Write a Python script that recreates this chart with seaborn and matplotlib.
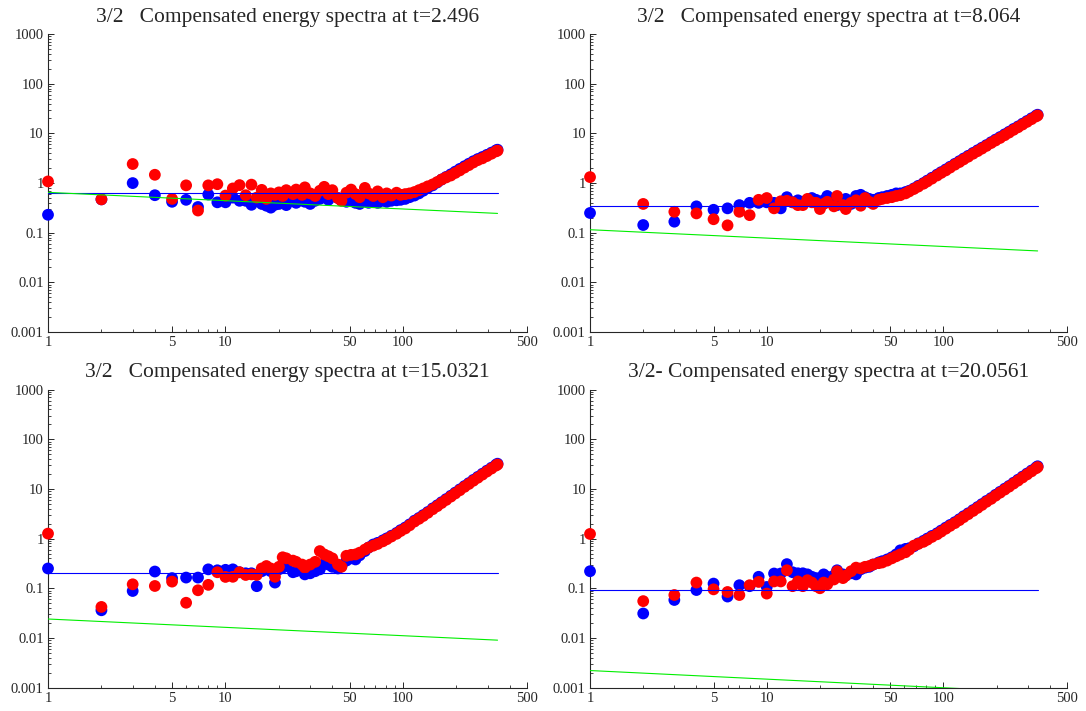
import pandas as pd
import seaborn as sns
import matplotlib.pyplot as plt
from matplotlib.ticker import FixedLocator, FixedFormatter, NullFormatter

# wavenumbers (dense part sampled)
k = [1, 2, 3, 4, 5, 6, 7, 8, 9, 10, 11, 12, 13, 14, 15, 16, 17, 18, 19,
     20, 21, 22, 24, 25, 27, 28, 30, 32, 34,
     36, 38, 40, 43, 45, 48, 51, 54, 57, 61,
     64, 68, 72, 77, 81, 86, 92, 97, 103, 109,
     116, 123, 130, 138, 147, 156, 165, 175, 186, 197,
     209, 222, 235, 249, 264, 280, 297, 315, 334, 341]

titles = ["3/2   Compensated energy spectra at t=2.496",
          "3/2   Compensated energy spectra at t=8.064",
          "3/2   Compensated energy spectra at t=15.0321",
          "3/2- Compensated energy spectra at t=20.0561"]

p1_red = [1.08, 0.47, 2.42, 1.47, 0.48, 0.90, 0.28, 0.90, 0.95, 0.56,
          0.78, 0.91, 0.57, 0.93, 0.51, 0.73, 0.48, 0.62, 0.58,
          0.65, 0.55, 0.72, 0.60, 0.74, 0.58, 0.82, 0.62, 0.55, 0.70,
          0.84, 0.60, 0.72, 0.50, 0.44, 0.64, 0.74, 0.60, 0.52, 0.80,
          0.62, 0.55, 0.68, 0.52, 0.62, 0.56, 0.64, 0.58, 0.60, 0.62,
          0.66, 0.72, 0.78, 0.86, 0.94, 1.05, 1.18, 1.30, 1.42, 1.60,
          1.80, 2.05, 2.30, 2.60, 2.90, 3.15, 3.50, 3.90, 4.35, 4.50]
p1_blue = [0.23, 0.47, 1.00, 0.57, 0.42, 0.46, 0.33, 0.59, 0.41, 0.41,
           0.51, 0.44, 0.44, 0.365, 0.44, 0.38, 0.35, 0.32, 0.365,
           0.38, 0.42, 0.36, 0.44, 0.40, 0.45, 0.42, 0.38, 0.44, 0.48,
           0.52, 0.46, 0.55, 0.50, 0.45, 0.42, 0.48, 0.40, 0.38, 0.44,
           0.40, 0.42, 0.40, 0.44, 0.42, 0.44, 0.45, 0.46, 0.48, 0.52,
           0.56, 0.62, 0.70, 0.80, 0.90, 1.03, 1.18, 1.33, 1.50, 1.70,
           1.93, 2.18, 2.45, 2.75, 3.05, 3.35, 3.70, 4.10, 4.55, 4.70]

p2_red = [1.32, 0.38, 0.264, 0.245, 0.187, 0.141, 0.264, 0.226, 0.46, 0.50,
          0.31, 0.43, 0.44, 0.41, 0.36, 0.36, 0.48, 0.41, 0.40,
          0.30, 0.38, 0.42, 0.34, 0.55, 0.36, 0.30, 0.40, 0.45, 0.35,
          0.50, 0.42, 0.38, 0.46, 0.48, 0.50, 0.52, 0.55, 0.57, 0.62,
          0.68, 0.76, 0.85, 0.97, 1.08, 1.23, 1.42, 1.60, 1.80, 2.05,
          2.35, 2.65, 3.00, 3.40, 3.90, 4.40, 4.95, 5.60, 6.40, 7.20,
          8.10, 9.20, 10.4, 11.8, 13.3, 15.1, 17.1, 19.4, 22.0, 23.0]
p2_blue = [0.25, 0.143, 0.167, 0.34, 0.29, 0.31, 0.36, 0.40, 0.40, 0.41,
           0.40, 0.31, 0.52, 0.41, 0.45, 0.42, 0.44, 0.50, 0.46,
           0.40, 0.45, 0.55, 0.40, 0.36, 0.42, 0.48, 0.38, 0.55, 0.58,
           0.52, 0.48, 0.46, 0.50, 0.52, 0.55, 0.58, 0.62, 0.62, 0.66,
           0.70, 0.78, 0.88, 1.00, 1.12, 1.28, 1.48, 1.66, 1.88, 2.13,
           2.44, 2.76, 3.12, 3.54, 4.05, 4.58, 5.15, 5.82, 6.65, 7.50,
           8.45, 9.60, 10.8, 12.3, 13.8, 15.7, 17.8, 20.2, 22.8, 23.8]

p3_red = [1.26, 0.042, 0.12, 0.111, 0.136, 0.051, 0.091, 0.117, 0.21, 0.169,
          0.17, 0.21, 0.185, 0.19, 0.185, 0.25, 0.28, 0.25, 0.17,
          0.27, 0.42, 0.40, 0.36, 0.34, 0.30, 0.26, 0.30, 0.34, 0.56,
          0.48, 0.44, 0.40, 0.30, 0.27, 0.45, 0.47, 0.48, 0.52, 0.60,
          0.66, 0.72, 0.78, 0.88, 0.97, 1.10, 1.25, 1.42, 1.60, 1.85,
          2.20, 2.50, 2.85, 3.30, 3.90, 4.50, 5.20, 6.00, 7.00, 8.10,
          9.40, 11.0, 12.6, 14.6, 16.8, 19.4, 22.4, 25.7, 29.5, 31.0]
p3_blue = [0.25, 0.036, 0.088, 0.217, 0.16, 0.164, 0.164, 0.24, 0.23, 0.235,
           0.24, 0.21, 0.20, 0.20, 0.11, 0.22, 0.24, 0.22, 0.13,
           0.24, 0.26, 0.28, 0.21, 0.22, 0.24, 0.19, 0.20, 0.22, 0.24,
           0.31, 0.30, 0.27, 0.25, 0.28, 0.36, 0.40, 0.38, 0.46, 0.56,
           0.66, 0.76, 0.82, 0.92, 1.01, 1.14, 1.30, 1.48, 1.67, 1.93,
           2.29, 2.60, 2.97, 3.43, 4.06, 4.68, 5.40, 6.24, 7.28, 8.42,
           9.78, 11.4, 13.1, 15.2, 17.5, 20.2, 23.3, 26.7, 30.7, 32.2]

p4_red = [1.24, 0.055, 0.073, 0.13, 0.095, 0.084, 0.073, 0.115, 0.134, 0.078,
          0.137, 0.137, 0.23, 0.11, 0.137, 0.11, 0.145, 0.13, 0.11,
          0.10, 0.13, 0.12, 0.15, 0.22, 0.16, 0.18, 0.22, 0.26, 0.25,
          0.27, 0.28, 0.30, 0.32, 0.33, 0.36, 0.40, 0.44, 0.48, 0.53,
          0.60, 0.72, 0.78, 0.86, 0.95, 1.08, 1.22, 1.38, 1.58, 1.80,
          2.05, 2.35, 2.70, 3.10, 3.60, 4.15, 4.75, 5.50, 6.30, 7.30,
          8.40, 9.70, 11.1, 12.8, 14.7, 17.0, 19.6, 22.6, 26.0, 27.5]
p4_blue = [0.22, 0.031, 0.058, 0.092, 0.124, 0.068, 0.115, 0.11, 0.17, 0.106,
           0.198, 0.198, 0.306, 0.21, 0.20, 0.20, 0.19, 0.17, 0.16,
           0.16, 0.19, 0.17, 0.18, 0.23, 0.19, 0.18, 0.20, 0.19, 0.24,
           0.26, 0.27, 0.30, 0.33, 0.35, 0.38, 0.42, 0.48, 0.58, 0.62,
           0.64, 0.70, 0.80, 0.90, 1.00, 1.13, 1.28, 1.45, 1.66, 1.88,
           2.14, 2.45, 2.82, 3.23, 3.75, 4.32, 4.95, 5.72, 6.55, 7.60,
           8.74, 10.1, 11.5, 13.3, 15.3, 17.7, 20.4, 23.5, 27.0, 28.6]

# fitted reference lines: flat level and shallow power-law slope
line_k = [1, 341]
flat_level = [0.62, 0.34, 0.205, 0.091]
green_start = [0.65, 0.115, 0.024, 0.0022]
green_end = [0.245, 0.043, 0.009, 0.0008]

x_ticks = [1, 5, 10, 50, 100, 500]
x_minor = [2, 3, 4, 6, 7, 8, 9, 20, 30, 40, 60, 70, 80, 90, 200, 300, 400]
y_ticks = [0.001, 0.01, 0.1, 1, 10, 100, 1000]
y_tick_labels = ["0.001", "0.01", "0.1", "1", "10", "100", "1000"]
y_minor = [m * d for d in y_ticks[:-1] for m in range(2, 10)]

blues = [p1_blue, p2_blue, p3_blue, p4_blue]
reds = [p1_red, p2_red, p3_red, p4_red]

sns.set_style("ticks")
plt.rcParams["font.family"] = ["Liberation Serif", "DejaVu Serif"]

fig = plt.figure(figsize=(10.86, 7.11), dpi=100)
rects = [[0.0442, 0.5330, 0.4411, 0.4190],
         [0.5433, 0.5330, 0.4392, 0.4190],
         [0.0442, 0.0330, 0.4411, 0.4190],
         [0.5433, 0.0330, 0.4392, 0.4190]]

for i in range(4):
    ax = fig.add_axes(rects[i])
    ax.set_xscale("log")
    ax.set_yscale("log")

    df = pd.concat([
        pd.DataFrame({"k": k, "E": blues[i], "field": "blue"}),
        pd.DataFrame({"k": k, "E": reds[i], "field": "red"}),
    ])
    sns.scatterplot(data=df, x="k", y="E", hue="field",
                    palette={"blue": "#0000ff", "red": "#ff0000"},
                    s=72, linewidth=0, legend=False, clip_on=False, ax=ax,
                    zorder=3)
    sns.lineplot(x=line_k, y=[flat_level[i], flat_level[i]], color="#0000ff",
                 linewidth=0.8, ax=ax, zorder=4)
    sns.lineplot(x=line_k, y=[green_start[i], green_end[i]], color="#00ee00",
                 linewidth=0.8, ax=ax, zorder=4)

    ax.set_xlim(1, 500)
    ax.set_ylim(0.001, 1000)
    ax.xaxis.set_major_locator(FixedLocator(x_ticks))
    ax.xaxis.set_major_formatter(FixedFormatter([str(t) for t in x_ticks]))
    ax.xaxis.set_minor_locator(FixedLocator(x_minor))
    ax.xaxis.set_minor_formatter(NullFormatter())
    ax.yaxis.set_major_locator(FixedLocator(y_ticks))
    ax.yaxis.set_major_formatter(FixedFormatter(y_tick_labels))
    ax.yaxis.set_minor_locator(FixedLocator(y_minor))
    ax.yaxis.set_minor_formatter(NullFormatter())
    ax.tick_params(which="major", direction="in", length=4.5, width=0.7,
                   labelsize=10.5, pad=3)
    ax.tick_params(which="minor", direction="in", length=2.5, width=0.6)
    sns.despine(ax=ax)
    for side in ["left", "bottom"]:
        ax.spines[side].set_linewidth(0.8)
    ax.set_xlabel("")
    ax.set_ylabel("")
    ax.set_title(titles[i], fontsize=15.5, pad=9)

fig.savefig("out.png", dpi=100)
